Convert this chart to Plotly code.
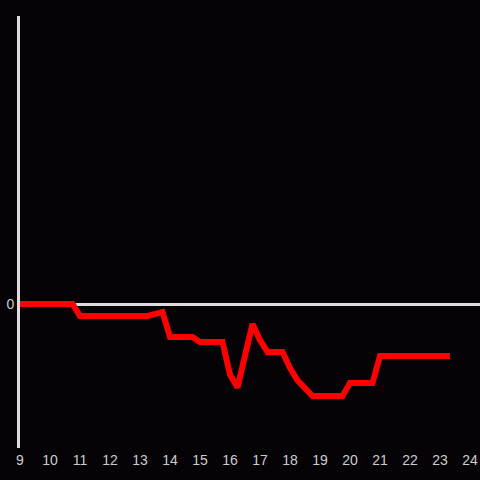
import plotly.graph_objects as go

hours = [9.0, 10.75, 11.0, 13.25, 13.75, 14.0, 14.75, 15.0, 15.75, 16.0, 16.25,
         16.75, 17.0, 17.25, 17.75, 18.0, 18.25, 18.75, 19.75, 20.0, 20.75, 21.0, 23.33]
values = [0, 0, -0.083, -0.083, -0.056, -0.229, -0.229, -0.264, -0.264, -0.49, -0.58,
          -0.139, -0.25, -0.333, -0.333, -0.444, -0.53, -0.639, -0.639, -0.549, -0.549, -0.361, -0.361]
tick_vals = list(range(9, 25))
tick_text = [str(v) for v in tick_vals]

fig = go.Figure()
fig.add_trace(go.Scatter(x=hours, y=values, mode="lines",
                         line=dict(color="#ff0000", width=6), showlegend=False,
                         hoverinfo="skip"))
bg = "#050306"
fig.update_layout(
    width=480, height=480,
    paper_bgcolor=bg, plot_bgcolor=bg,
    margin=dict(l=20, r=0, t=16, b=32),
    font=dict(family="Liberation Sans, Arial, sans-serif", color="#cccccc", size=14),
    xaxis=dict(range=[9, 9 + 460 / 30], tickvals=tick_vals, ticktext=tick_text,
               showgrid=False, zeroline=False, showline=False, ticks="",
               tickfont=dict(color="#cccccc", size=14), automargin=False,
               ticklabelstandoff=2),
    yaxis=dict(range=[-1, 2], tickvals=[0], ticktext=["0"], showgrid=False,
               zeroline=True, zerolinecolor="#dddddd", zerolinewidth=3,
               showline=True, linecolor="#dddddd", linewidth=3, ticks="",
               tickfont=dict(color="#cccccc", size=14), automargin=False),
)
fig.write_html("out.html", config={"displayModeBar": False},
               post_script="document.body.style.margin='0';document.body.style.background='#050306';")
